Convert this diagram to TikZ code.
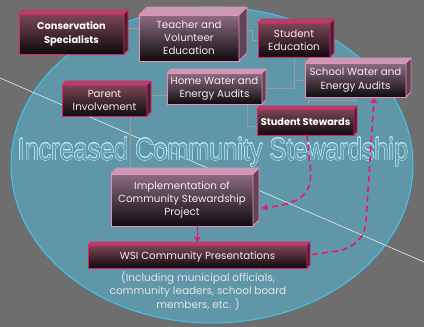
\documentclass[tikz,border=0pt]{standalone}
\usepackage{fontspec}
\setmainfont{Poppins}
\newfontfamily\titlefont{Liberation Sans}
\usepackage[copies]{contour}
\contourlength{0.45pt}
\usetikzlibrary{arrows.meta}
\definecolor{bgray}{HTML}{6E6E6E}
\definecolor{ellfill}{HTML}{5F97A8}
\definecolor{ellline}{HTML}{3EC6F0}
\definecolor{pinkD}{HTML}{E3206F}
\definecolor{pinkL}{HTML}{F08CB8}
\definecolor{gradDt}{HTML}{7C4656}
\definecolor{gradLt}{HTML}{8E6C84}
\definecolor{gradB}{HTML}{0E0B0D}
\definecolor{faceDt}{HTML}{A24A68}
\definecolor{faceDs}{HTML}{4A2030}
\definecolor{faceLt}{HTML}{C49CB4}
\definecolor{faceLs}{HTML}{5E4656}
\definecolor{arrowpink}{HTML}{E8186A}
\definecolor{conn}{HTML}{9C9C9C}
\definecolor{boxtext}{HTML}{F4EAF0}
\definecolor{captxt}{HTML}{E4E4E8}
\definecolor{titlefill}{HTML}{63A0B2}
\definecolor{titleline}{HTML}{BDE6F3}
\pgfdeclarelayer{bg}
\pgfdeclarelayer{lines}
\pgfsetlayers{bg,lines,main}
\tikzset{
  boxbase/.style={draw, line width=0.8pt, outer sep=0pt, inner sep=0pt, align=center,
    text=boxtext, font=\fontsize{10.3}{13.2}\selectfont},
  boxD/.style={boxbase, draw=pinkD, top color=gradDt, bottom color=gradB},
  boxL/.style={boxbase, draw=pinkL, top color=gradLt, bottom color=gradB},
  boxDb/.style={boxD, text=white, font=\bfseries\fontsize{9.8}{13.6}\selectfont},
  topD/.style={fill=faceDt, draw=pinkD, line width=0.8pt, line join=round},
  sideD/.style={fill=faceDs, draw=pinkD, line width=0.8pt, line join=round},
  topDb/.style={topD}, sideDb/.style={sideD},
  topL/.style={fill=faceLt, draw=pinkL, line width=0.8pt, line join=round},
  sideL/.style={fill=faceLs, draw=pinkL, line width=0.8pt, line join=round},
  connector/.style={draw=conn, line width=0.8pt},
  parrow/.style={draw=arrowpink, line width=1.6pt, -{Triangle[length=5pt,width=6.5pt]}},
  pdash/.style={dash pattern=on 6pt off 4pt}
}
\newcommand\cubebox[8]{%
  \node[box#1, minimum width={(#5-#3)*1pt}, minimum height={(#6-#4)*1pt}] (#2) at ({(#3+#5)/2},{(#4+#6)/2}) {#8};
  \filldraw[top#1] (#2.north west) -- ([shift={(#7pt,#7pt)}]#2.north west) -- ([shift={(#7pt,#7pt)}]#2.north east) -- (#2.north east) -- cycle;
  \filldraw[side#1] (#2.north east) -- ([shift={(#7pt,#7pt)}]#2.north east) -- ([shift={(#7pt,#7pt)}]#2.south east) -- (#2.south east) -- cycle;
}
\begin{document}
\begin{tikzpicture}[x=1pt,y=-1pt]
\useasboundingbox (0,0) rectangle (424,327);
\begin{pgfonlayer}{bg}
  \fill[bgray] (0,0) rectangle (424,327);
  \filldraw[fill=ellfill, draw=ellline, line width=1pt] (212,165) ellipse [x radius=201, y radius=158];
  \draw[white!85!gray, line width=0.6pt] (0,78) -- (424,262);
\end{pgfonlayer}

% boxes
\cubebox{Db}{cons}{19}{14}{124}{54}{4}{Conservation\\Specialists}
\cubebox{L}{teach}{139}{15}{239}{61}{8}{Teacher and\\Volunteer\\Education}
\cubebox{D}{sted}{258}{23}{330}{57}{4}{Student\\Education}
\cubebox{L}{home}{167}{73}{262}{104}{4}{Home Water and\\Energy Audits}
\cubebox{L}{school}{305}{63}{406}{97}{5}{School Water and\\Energy Audits}
\cubebox{D}{parent}{62}{85}{147}{116}{4}{Parent\\Involvement}
\cubebox{Db}{stew}{257}{109}{354}{135}{3}{Student Stewards}
\cubebox{L}{impl}{111}{174}{253}{226}{6}{Implementation of\\Community Stewardship\\Project}
\cubebox{D}{wsi}{88}{245}{307}{268}{3}{WSI Community Presentations}

\node[anchor=north, inner sep=0pt, align=center, text=captxt,
  font=\fontsize{10.5}{13.6}\selectfont] (cap) at (198,271)
  {(Including municipal officials,\\community leaders, school board\\members, etc. )};

\node[anchor=base, inner sep=0pt, font=\titlefont\fontsize{30.7}{32}\selectfont] (title) at (213,160)
  {\scalebox{0.82}[1]{\contour{titleline}{\textcolor{titlefill}{Increased Community Stewardship}}}};

% gray connectors
\begin{pgfonlayer}{lines}
  \draw[connector] ([yshift=6pt]cons.east) -- ([yshift=10pt]teach.west);
  \draw[connector] ([shift={(8pt,8pt)}]teach.east) -- ++(5,0) |- (sted.west);
  \draw[connector] (sted.south) |- ([xshift=4pt]home.east);
  \draw[connector] (sted.south |- school.west) -- (school.west);
  \draw[connector] (school.south) -- ++(0,3) -| ([xshift=2.5pt]stew.north);
  \draw[connector] ([xshift=32.5pt]home.south) |- ([yshift=-4pt]stew.west);
  \draw[connector] ([shift={(4pt,5.5pt)}]parent.east) -- ([yshift=-6.5pt]home.west);
  \draw[connector] ([xshift=25.5pt]parent.south) -- ([xshift=25.5pt]parent.south |- impl.north);
  \draw[connector] ([xshift=-35.5pt]wsi.south) -- ([xshift=-35.5pt]wsi.south |- cap.north);
  \draw[connector] ([xshift=62.5pt]wsi.south) -- ([xshift=62.5pt]wsi.south |- cap.north);
\end{pgfonlayer}

% pink arrows
\draw[parrow, pdash] ([xshift=1.5pt]stew.south) .. controls (309,160) and (312,172) .. (310,182)
  .. controls (307,199) and (290,205) .. ([shift={(9pt,-8pt)}]impl.east);
\draw[parrow, pdash] ([shift={(5pt,2pt)}]wsi.east) -- (338,251)
  .. controls (356,247) and (365,236) .. (366,222) -- ([shift={(18.5pt,-1pt)}]school.south);
\draw[parrow] (impl.south -| wsi.north) -- ([yshift=3pt]wsi.north);
\end{tikzpicture}
\end{document}
